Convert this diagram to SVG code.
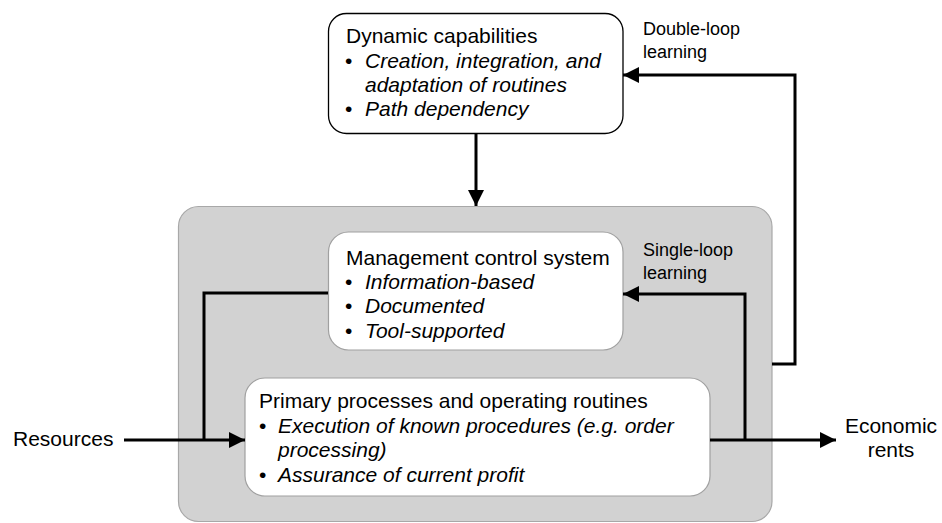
<svg xmlns="http://www.w3.org/2000/svg" width="942" height="523" viewBox="0 0 942 523">
<style>
.t{font-family:"Liberation Sans",Arial,sans-serif;font-size:21px;fill:#000}
.i{font-style:italic}
.l{font-family:"Liberation Sans",Arial,sans-serif;font-size:18px;fill:#000}
.c{fill:none;stroke:#000;stroke-width:3}
.wb{fill:#fff;stroke:#a0a0a0;stroke-width:1.2}
</style>
<defs>
<marker id="ah" markerUnits="userSpaceOnUse" markerWidth="16" markerHeight="16" refX="16" refY="8" orient="auto">
<path d="M0,0 L16,8 L0,16 Z" fill="#000"/>
</marker>
</defs>
<rect width="942" height="523" fill="#fff"/>
<g id="container">
<rect x="178.5" y="206.5" width="593.5" height="315" rx="20" fill="#d2d2d2" stroke="#a8a8a8" stroke-width="1.2"/>
</g>
<g id="dynamic">
<rect x="328.5" y="13.5" width="294.5" height="120" rx="18" fill="#fff" stroke="#000" stroke-width="1.3"/>
<text class="t" x="346" y="43">Dynamic capabilities</text>
<text class="t" x="345" y="68">•</text><text class="t i" x="365" y="68">Creation, integration, and</text>
<text class="t i" x="365" y="92">adaptation of routines</text>
<text class="t" x="345" y="116">•</text><text class="t i" x="365" y="116">Path dependency</text>
</g>
<g id="mcs">
<rect class="wb" x="328.5" y="232" width="294.5" height="118" rx="20"/>
<text class="t" x="346" y="265">Management control system</text>
<text class="t" x="345" y="289">•</text><text class="t i" x="365" y="289">Information-based</text>
<text class="t" x="345" y="313">•</text><text class="t i" x="365" y="313">Documented</text>
<text class="t" x="345" y="338">•</text><text class="t i" x="365" y="338">Tool-supported</text>
</g>
<g id="primary">
<rect class="wb" x="245" y="378" width="465" height="118" rx="20"/>
<text class="t" x="259" y="408">Primary processes and operating routines</text>
<text class="t" x="259" y="433">•</text><text class="t i" x="278" y="433">Execution of known procedures (e.g. order</text>
<text class="t i" x="278" y="457">processing)</text>
<text class="t" x="259" y="482">•</text><text class="t i" x="278" y="482">Assurance of current profit</text>
</g>
<g id="connectors">
<path class="c" d="M476,133 V206" marker-end="url(#ah)"/>
<path class="c" d="M772,364 H795 V75 H623" marker-end="url(#ah)"/>
<path class="c" d="M745,440 V294 H623" marker-end="url(#ah)"/>
<path class="c" d="M328,293 H204 V440"/>
<path class="c" d="M124,440 H245" marker-end="url(#ah)"/>
<path class="c" d="M710,440 H836" marker-end="url(#ah)"/>
</g>
<g id="labels">
<text class="l" x="643" y="35">Double-loop</text>
<text class="l" x="643" y="58">learning</text>
<text class="l" x="643" y="256">Single-loop</text>
<text class="l" x="643" y="279">learning</text>
<text class="t" x="13" y="446">Resources</text>
<text class="t" x="891" y="433" text-anchor="middle">Economic</text>
<text class="t" x="891" y="457" text-anchor="middle">rents</text>
</g>
</svg>
